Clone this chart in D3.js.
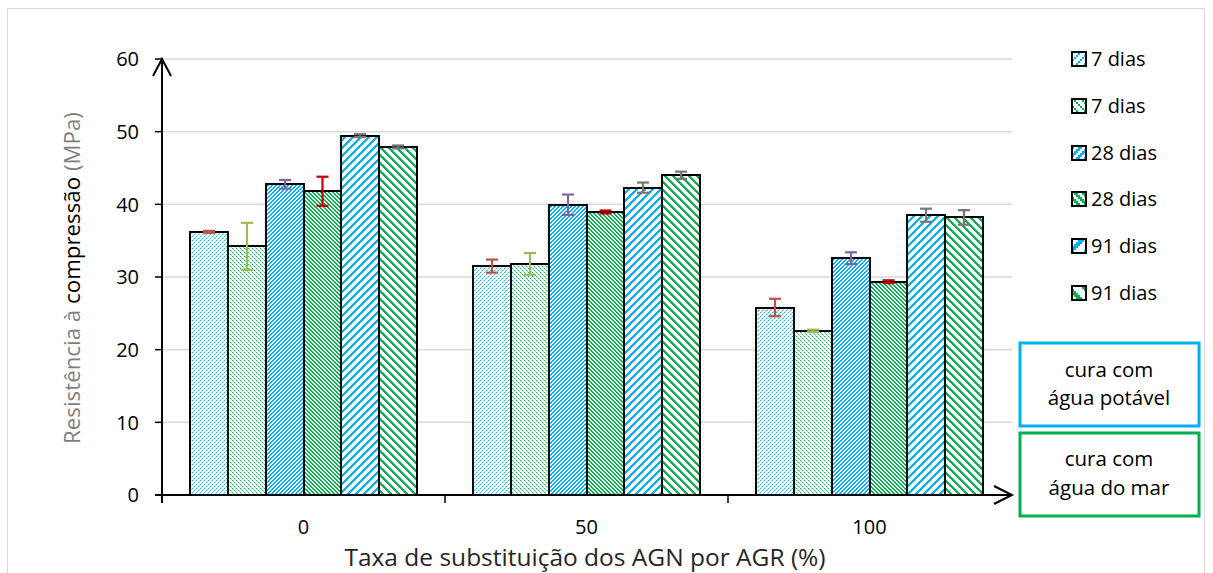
<!DOCTYPE html>
<html>
<head>
<meta charset="utf-8">
<script src="https://cdn.jsdelivr.net/npm/d3@7"></script>
<style>
  html, body { margin: 0; padding: 0; background: #fff; }
  svg { display: block; font-family: "Open Sans", Lato, sans-serif; }
</style>
</head>
<body>
<svg id="chart" width="1213" height="573"></svg>
<script>
// Compressive strength by replacement ratio, curing age and curing water
const categories = ["0", "50", "100"];
const seriesNames = ["7 dias", "7 dias", "28 dias", "28 dias", "91 dias", "91 dias"];
const s7pot  = [36.2, 31.5, 25.8];
const s7mar  = [34.2, 31.8, 22.6];
const s28pot = [42.75, 39.95, 32.6];
const s28mar = [41.8, 38.95, 29.35];
const s91pot = [49.45, 42.3, 38.5];
const s91mar = [47.9, 44.0, 38.2];
const e7pot  = [0.15, 0.9, 1.2];
const e7mar  = [3.25, 1.5, 0.15];
const e28pot = [0.6, 1.4, 0.8];
const e28mar = [2.0, 0.2, 0.2];
const e91pot = [0.2, 0.7, 0.9];
const e91mar = [0.2, 0.5, 1.0];
const yTicks = [0, 10, 20, 30, 40, 50, 60];

const values = [s7pot, s7mar, s28pot, s28mar, s91pot, s91mar];
const errors = [e7pot, e7mar, e28pot, e28mar, e91pot, e91mar];

const BLUE = "#00b0f0", GREEN = "#00b050";
const errColors = ["#c0504d", "#9bbb59", "#8064a2", "#c00000", "#767676", "#767676"];

const svg = d3.select("#chart");
const defs = svg.append("defs");

// 8x8 pixel hatch tiles: period (px along a row), line thickness, direction, pixel scale
function hatch(id, color, period, thick, dir, paleColor, scale = 1) {
  const size = 8;
  const p = defs.append("pattern").attr("id", id)
    .attr("patternUnits", "userSpaceOnUse")
    .attr("width", size * scale).attr("height", size * scale);
  p.append("rect").attr("width", size * scale).attr("height", size * scale).attr("fill", "#fff");
  let main = "", pale = "";
  for (let r = 0; r < size; r++) {
    for (let c = 0; c < size; c++) {
      const phase = dir === "/" ? ((c + r) % period) : ((c - r + size * 4) % period);
      if (phase < thick) {
        const px = `M${c * scale},${r * scale}h${scale}v${scale}h${-scale}z`;
        if (paleColor && (r % 2 === 1)) pale += px; else main += px;
      }
    }
  }
  p.append("path").attr("d", main).attr("fill", color).attr("shape-rendering", "crispEdges");
  if (pale) p.append("path").attr("d", pale).attr("fill", paleColor).attr("shape-rendering", "crispEdges");
}
const hatchSpecs = [
  [BLUE, 4, 1, "/", "#8fdaf7"],
  [GREEN, 4, 1, "\\", "#8fd8ad"],
  [BLUE, 4, 2, "/"],
  [GREEN, 4, 2, "\\"],
  [BLUE, 8, 3, "/"],
  [GREEN, 8, 3, "\\"]
];
hatchSpecs.forEach((s, i) => {
  hatch(`p${i}`, s[0], s[1], s[2], s[3], s[4]);
  hatch(`l${i}`, s[0], s[1], s[2], s[3], s[4] ? s[0] : undefined, 2);
});

// outer chart frame
svg.append("rect").attr("x", 7.5).attr("y", 8.5).attr("width", 1197).attr("height", 600)
  .attr("fill", "none").attr("stroke", "#d9d9d9").attr("stroke-width", 1);

const plotL = 162, plotR = 1012, plotT = 59, plotB = 495;
const x0 = d3.scaleBand().domain(categories).range([plotL, plotR - 1]).paddingInner(0).paddingOuter(0);
const x1 = d3.scaleBand().domain(d3.range(6)).range([0, x0.bandwidth()]).paddingOuter(0.724).paddingInner(0);
const y = d3.scaleLinear().domain([0, 60]).range([plotB, plotT]);

// gridlines
svg.append("g").selectAll("line").data(yTicks.filter(d => d > 0)).join("line")
  .attr("x1", plotL).attr("x2", plotR)
  .attr("y1", d => y(d)).attr("y2", d => y(d))
  .attr("stroke", "#d9d9d9").attr("stroke-width", 1.5);

// bars, snapped to whole pixels so the hatch tiles stay crisp
const barData = [];
categories.forEach((cat, ci) => {
  for (let si = 0; si < 6; si++) {
    barData.push({ cat, ci, si, v: values[si][ci], e: errors[si][ci] });
  }
});
const bx0 = d => Math.round(x0(d.cat) + x1(d.si));
const bx1 = d => Math.round(x0(d.cat) + x1(d.si) + x1.bandwidth());

svg.append("g").selectAll("rect").data(barData).join("rect")
  .attr("x", bx0).attr("width", d => bx1(d) - bx0(d))
  .attr("y", d => Math.round(y(d.v))).attr("height", d => plotB - Math.round(y(d.v)))
  .attr("fill", d => `url(#p${d.si})`)
  .attr("stroke", "#000").attr("stroke-width", 2);

// error bars
const eg = svg.append("g").selectAll("g").data(barData).join("g")
  .attr("stroke", d => errColors[d.si]).attr("stroke-width", 2.2);
const ecx = d => (bx0(d) + bx1(d)) / 2;
eg.append("line").attr("x1", ecx).attr("x2", ecx)
  .attr("y1", d => y(d.v + d.e)).attr("y2", d => y(d.v - d.e));
eg.append("line").attr("x1", d => ecx(d) - 6).attr("x2", d => ecx(d) + 6)
  .attr("y1", d => y(d.v + d.e)).attr("y2", d => y(d.v + d.e));
eg.append("line").attr("x1", d => ecx(d) - 6).attr("x2", d => ecx(d) + 6)
  .attr("y1", d => y(d.v - d.e)).attr("y2", d => y(d.v - d.e));

// axes
const axisG = svg.append("g").attr("stroke", "#000").attr("stroke-width", 2).attr("fill", "none");
axisG.append("line").attr("x1", plotL).attr("x2", plotL).attr("y1", plotB + 8).attr("y2", plotT);
axisG.append("path").attr("d", `M${plotL - 9},${plotT + 17}L${plotL},${plotT}L${plotL + 9},${plotT + 17}`);
axisG.append("line").attr("x1", plotL - 7).attr("x2", plotR).attr("y1", plotB).attr("y2", plotB);
axisG.append("path").attr("d", `M${plotR - 18},${plotB - 9}L${plotR},${plotB}L${plotR - 18},${plotB + 9}`);

// y ticks
axisG.selectAll(".yt").data(yTicks.filter(d => d > 0)).join("line")
  .attr("x1", plotL - 7).attr("x2", plotL).attr("y1", d => y(d)).attr("y2", d => y(d))
  .attr("stroke-width", 1.5);
// x ticks at category boundaries
const bounds = categories.map(c => x0(c)).slice(1);
axisG.selectAll(".xt").data(bounds).join("line")
  .attr("x1", d => d).attr("x2", d => d).attr("y1", plotB).attr("y2", plotB + 8)
  .attr("stroke-width", 1.5);

svg.append("g").selectAll("text").data(yTicks).join("text")
  .attr("x", plotL - 23).attr("y", d => y(d)).attr("dy", "0.36em")
  .attr("text-anchor", "end").attr("font-size", 20).attr("fill", "#000")
  .text(d => d);

svg.append("g").selectAll("text").data(categories).join("text")
  .attr("x", d => x0(d) + x0.bandwidth() / 2).attr("y", 534)
  .attr("text-anchor", "middle").attr("font-size", 20).attr("fill", "#000")
  .text(d => d);

// axis titles
svg.append("text").attr("x", 585).attr("y", 566).attr("text-anchor", "middle")
  .attr("font-size", 24.5).attr("fill", "#262626")
  .text("Taxa de substituição dos AGN por AGR (%)");

const yt = svg.append("text").attr("transform", "translate(72,278) rotate(-90)")
  .attr("dy", "0.36em")
  .attr("text-anchor", "middle").attr("font-size", 22.3).attr("fill", "#7f7f7f");
yt.append("tspan").text("Resistência à ");
yt.append("tspan").attr("fill", "#000").text("compressão");
yt.append("tspan").text(" (MPa)");

// legend
const legend = svg.append("g").selectAll("g").data(seriesNames).join("g")
  .attr("transform", (d, i) => `translate(1072,${Math.round(59 + i * 46.8)})`);
legend.append("rect").attr("x", 0).attr("y", -7).attr("width", 14).attr("height", 14)
  .attr("fill", (d, i) => `url(#l${i})`).attr("stroke", "#000").attr("stroke-width", 2);
legend.append("text").attr("x", 19).attr("y", 0).attr("dy", "0.36em")
  .attr("font-size", 20).attr("fill", "#000").text(d => d);

// curing water boxes
const boxes = [
  { y: 343, color: BLUE, lines: ["cura com", "água potável"], base: [377, 405] },
  { y: 433, color: GREEN, lines: ["cura com", "água do mar"], base: [466, 495] }
];
const bxg = svg.append("g").selectAll("g").data(boxes).join("g");
bxg.append("rect").attr("x", 1020).attr("y", d => d.y).attr("width", 179).attr("height", 83)
  .attr("fill", "#fff").attr("stroke", d => d.color).attr("stroke-width", 3);
bxg.each(function(d) {
  d3.select(this).selectAll("text").data(d.lines).join("text")
    .attr("x", 1109).attr("y", (t, i) => d.base[i])
    .attr("text-anchor", "middle").attr("font-size", 20.5).attr("fill", "#000")
    .text(t => t);
});
</script>
</body>
</html>
